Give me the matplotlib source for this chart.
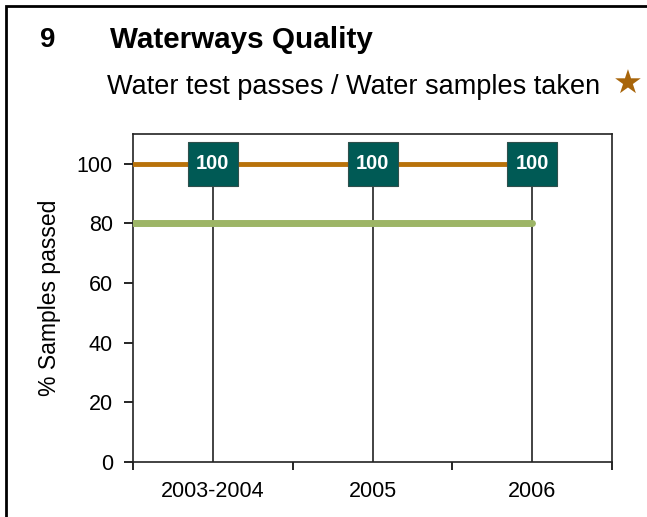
import matplotlib.pyplot as plt
import numpy as np
from matplotlib.patches import Rectangle

plt.rcParams['font.family'] = ['Liberation Sans', 'DejaVu Sans']

# data
anni = ['2003-2004', '2005', '2006']
percentuali = [100, 100, 100]
obiettivo = 80

fig = plt.figure(figsize=(6.47, 5.17), dpi=100)
ax = fig.add_axes([0.2056, 0.1064, 0.7404, 0.6344])

x = np.arange(len(anni))
xlim = (-0.5, len(anni) - 0.5)

# linee verticali dal punto allo zero
ax.vlines(x, 0, percentuali, color='#222222', lw=1.2, zorder=2)
# serie (parte dall'asse sinistro)
ax.plot(np.r_[xlim[0], x], np.r_[percentuali[0], percentuali], color='#B8720A', lw=3.5, zorder=3)
# obiettivo
ax.plot([xlim[0], x[-1]], [obiettivo, obiettivo], color='#9DB566', lw=5, solid_capstyle='round', zorder=3)

# etichette: riquadro 50x44 px
riquadro = [(-25, -22), (25, -22), (25, 22), (-25, 22), (-25, -22)]
ax.plot(x, percentuali, linestyle='none', marker=riquadro, markersize=36,
        markerfacecolor='#005A55', markeredgecolor='#2F4F4C', markeredgewidth=0.8, zorder=4)
for xi, v in zip(x, percentuali):
    ax.text(xi, v, str(v), ha='center', va='center', color='white', fontsize=14.5, fontweight='bold', zorder=5)

ax.set_xlim(*xlim)
ax.set_ylim(0, 110)
ax.set_yticks(range(0, 101, 20))
ax.set_xticks(x)
ax.set_xticklabels(anni)
ax.set_xticks(np.arange(xlim[0], xlim[1] + 0.01, 1), minor=True)
ax.tick_params(axis='x', which='major', length=0, pad=14, labelsize=15.5)
ax.tick_params(axis='x', which='minor', length=6, width=1.2, direction='out')
ax.tick_params(axis='y', length=6.5, width=1.2, direction='out', labelsize=15.5, pad=8)
for s in ax.spines.values():
    s.set_linewidth(1.2)
    s.set_color('#222222')
ax.set_ylabel('% Samples passed', fontsize=16.5, labelpad=11)

fig.text(0.062, 0.923, '9', fontsize=20, fontweight='bold', va='center')
fig.text(0.17, 0.923, 'Waterways Quality', fontsize=21.3, fontweight='bold', va='center')
fig.text(0.165, 0.832, 'Water test passes / Water samples taken', fontsize=19.5, va='center')
fig.text(0.971, 0.836, '\u2605', fontsize=24, color='#A8650A', ha='center', va='center', family=['DejaVu Sans'])

# cornice
fig.patches.append(Rectangle((6 / 647, -0.1), 2, 1.1 - 6 / 517, transform=fig.transFigure,
                             fill=False, edgecolor='black', lw=2))

fig.savefig('out.png', dpi=100)
